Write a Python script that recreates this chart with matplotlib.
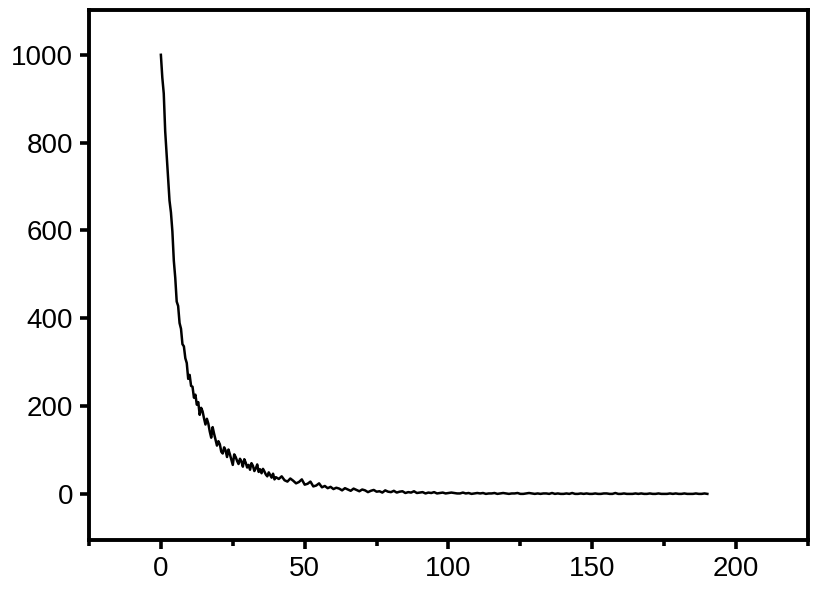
import numpy as np
import matplotlib
matplotlib.use("Agg")
import matplotlib.pyplot as plt
from matplotlib.ticker import MultipleLocator

# x sampling: fine steps early, unit steps later
x_early = np.arange(0, 40.5, 0.5)
x_late = np.arange(41, 191, 1)

y_early = [
    1000, 948, 912, 826, 772, 716, 668, 641, 598, 531,
    492, 438, 428, 389, 376, 341, 336, 309, 298, 262,
    271, 246, 244, 219, 226, 203, 209, 180, 196, 188,
    172, 158, 171, 160, 142, 128, 152, 137, 124, 110,
    120, 113, 96, 92, 106, 99, 84, 101, 90, 78,
    66, 90, 84, 75, 68, 80, 74, 62, 79, 71,
    60, 66, 55, 70, 64, 52, 58, 67, 50, 56,
    47, 57, 51, 44, 40, 49, 43, 37, 46, 33,
    38,
]

y_late = [
    34, 40, 31, 28, 35, 30, 24, 27, 33, 21,
    23, 28, 17, 19, 24, 15, 18, 13, 16, 11,
    14, 12, 8, 13, 10, 7, 12, 9, 6, 10,
    8, 4, 7, 9, 5, 6, 3, 8, 5, 4,
    7, 3, 5, 6, 2, 4, 3, 6, 2, 3,
    4, 1, 3, 2, 4, 1, 2, 3, 1, 2,
    3, 2, 1, 1, 3, 1, 2, 0, 1, 2,
    1, 2, 0, 1, 1, 2, 0, 1, 2, 1,
    0, 1, 1, 2, 0, 0, 1, 2, 1, 0,
    1, 0, 1, 1, 0, 2, 0, 1, 0, 0,
    1, 0, 2, 0, 0, 1, 0, 1, 0, 0,
    1, 0, 0, 1, 1, 0, 0, 2, 0, 0,
    1, 0, 0, 0, 1, 0, 1, 0, 0, 1,
    0, 0, 1, 0, 0, 0, 1, 0, 1, 0,
    0, 1, 0, 0, 0, 1, 0, 0, 1, 0,
]

x_ticks = [0, 50, 100, 150, 200]
y_ticks = [0, 200, 400, 600, 800, 1000]

x = np.concatenate([x_early, x_late])
y = np.array(y_early + y_late, dtype=float)

plt.rcParams['font.family'] = ['Liberation Sans', 'DejaVu Sans']

fig = plt.figure(figsize=(8.2, 5.93), dpi=100)
ax = fig.add_axes([0.1085, 0.0894, 0.8769, 0.8937])

ax.plot(x, y, color='black', linewidth=1.8)

ax.set_xlim(-25, 225)
ax.set_ylim(-105, 1102)
ax.set_xticks(x_ticks)
ax.set_yticks(y_ticks)
ax.xaxis.set_minor_locator(MultipleLocator(25))

for s in ax.spines.values():
    s.set_linewidth(2.8)

ax.tick_params(axis='both', which='major', direction='out', length=6.5,
               width=2.6, labelsize=20, pad=5)
ax.tick_params(axis='x', which='minor', direction='out', length=4, width=2.6)
ax.tick_params(top=False, right=False)

fig.savefig('out.png', dpi=100)
